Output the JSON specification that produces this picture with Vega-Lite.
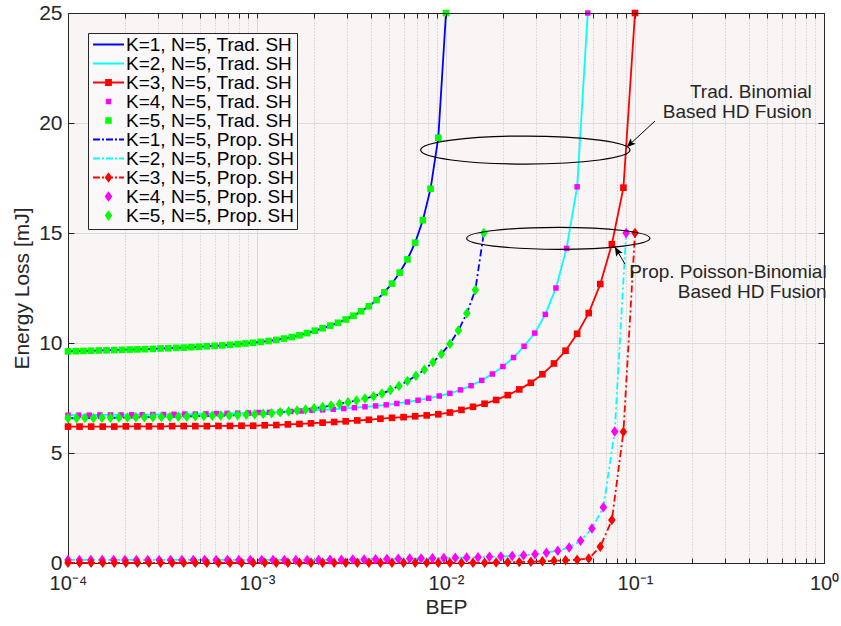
{
  "$schema": "https://vega.github.io/schema/vega-lite/v6.json",
  "width": 756,
  "height": 550,
  "autosize": {"type": "none"},
  "padding": {"left": 68, "top": 13, "right": 17, "bottom": 63},
  "background": "#FFFFFF",
  "datasets": {
    "info": [
      {"c": "A", "line": "K=1, N=5, Trad. SH", "marker": "K=5, N=5, Trad. SH", "method": "Trad"},
      {"c": "B", "line": "K=2, N=5, Trad. SH", "marker": "K=4, N=5, Trad. SH", "method": "Trad"},
      {"c": "C", "line": "K=3, N=5, Trad. SH", "marker": "K=3, N=5, Trad. SH", "method": "Trad"},
      {"c": "D", "line": "K=1, N=5, Prop. SH", "marker": "K=5, N=5, Prop. SH", "method": "Prop"},
      {"c": "E", "line": "K=2, N=5, Prop. SH", "marker": "K=4, N=5, Prop. SH", "method": "Prop"},
      {"c": "F", "line": "K=3, N=5, Prop. SH", "marker": "K=3, N=5, Prop. SH", "method": "Prop"}
    ],
    "keys": [
      {"series": "K=1, N=5, Trad. SH"}, {"series": "K=2, N=5, Trad. SH"}, {"series": "K=3, N=5, Trad. SH"},
      {"series": "K=4, N=5, Trad. SH"}, {"series": "K=5, N=5, Trad. SH"}, {"series": "K=1, N=5, Prop. SH"},
      {"series": "K=2, N=5, Prop. SH"}, {"series": "K=3, N=5, Prop. SH"}, {"series": "K=4, N=5, Prop. SH"},
      {"series": "K=5, N=5, Prop. SH"}
    ],
    "ovals": [
      {"n": "trad", "x": 0.02629, "y": 18.77},
      {"n": "prop", "x": 0.03927, "y": 14.76}
    ],
    "arrows": [
      {"n": "trad", "x": 0.1276, "y": 20.09, "x2": 0.0904, "y2": 18.9},
      {"n": "prop", "x": 0.0885, "y": 13.59, "x2": 0.0783, "y2": 14.36}
    ],
    "notes": [
      {"t": "Trad. Binomial", "x": 0.861, "y": 21.4},
      {"t": "Based HD Fusion", "x": 0.861, "y": 20.51},
      {"t": "Prop. Poisson-Binomial", "x": 1.033, "y": 13.21},
      {"t": "Based HD Fusion", "x": 1.033, "y": 12.33}
    ],
    "bep": [
      {"c":"A","x":0.0001,"y":9.62},{"c":"A","x":0.00010985,"y":9.63},{"c":"A","x":0.00012068,"y":9.64},{"c":"A","x":0.00013257,"y":9.65},{"c":"A","x":0.00014563,"y":9.66},
      {"c":"A","x":0.00015998,"y":9.67},{"c":"A","x":0.00017575,"y":9.68},{"c":"A","x":0.00019307,"y":9.69},{"c":"A","x":0.0002121,"y":9.70},{"c":"A","x":0.000233,"y":9.71},
      {"c":"A","x":0.00025595,"y":9.72},{"c":"A","x":0.00028118,"y":9.73},{"c":"A","x":0.00030888,"y":9.75},{"c":"A","x":0.00033932,"y":9.76},{"c":"A","x":0.00037276,"y":9.78},
      {"c":"A","x":0.00040949,"y":9.79},{"c":"A","x":0.00044984,"y":9.81},{"c":"A","x":0.00049417,"y":9.83},{"c":"A","x":0.00054287,"y":9.85},{"c":"A","x":0.00059636,"y":9.87},
      {"c":"A","x":0.00065513,"y":9.89},{"c":"A","x":0.00071969,"y":9.92},{"c":"A","x":0.0007906,"y":9.95},{"c":"A","x":0.00086851,"y":9.98},{"c":"A","x":0.0009541,"y":10.01},
      {"c":"A","x":0.0010481,"y":10.05},{"c":"A","x":0.0011514,"y":10.09},{"c":"A","x":0.0012649,"y":10.14},{"c":"A","x":0.0013895,"y":10.2},{"c":"A","x":0.0015264,"y":10.27},
      {"c":"A","x":0.0016768,"y":10.35},{"c":"A","x":0.001842,"y":10.45},{"c":"A","x":0.0020236,"y":10.56},{"c":"A","x":0.002223,"y":10.67},{"c":"A","x":0.002442,"y":10.79},
      {"c":"A","x":0.0026827,"y":10.92},{"c":"A","x":0.0029471,"y":11.07},{"c":"A","x":0.0032375,"y":11.24},{"c":"A","x":0.0035565,"y":11.44},{"c":"A","x":0.003907,"y":11.67},
      {"c":"A","x":0.004292,"y":11.95},{"c":"A","x":0.0047149,"y":12.3},{"c":"A","x":0.0051796,"y":12.7},{"c":"A","x":0.00569,"y":13.2},{"c":"A","x":0.0062507,"y":13.8},
      {"c":"A","x":0.0068667,"y":14.56},{"c":"A","x":0.0075433,"y":15.58},{"c":"A","x":0.0082866,"y":17.01},{"c":"A","x":0.0091032,"y":19.33},{"c":"A","x":0.01,"y":25},

      {"c":"B","x":0.0001,"y":6.72},{"c":"B","x":0.0001138,"y":6.72},{"c":"B","x":0.00012949,"y":6.72},{"c":"B","x":0.00014736,"y":6.73},{"c":"B","x":0.00016768,"y":6.73},
      {"c":"B","x":0.00019082,"y":6.73},{"c":"B","x":0.00021714,"y":6.74},{"c":"B","x":0.00024709,"y":6.74},{"c":"B","x":0.00028118,"y":6.75},{"c":"B","x":0.00031997,"y":6.75},
      {"c":"B","x":0.0003641,"y":6.76},{"c":"B","x":0.00041433,"y":6.77},{"c":"B","x":0.00047149,"y":6.77},{"c":"B","x":0.00053653,"y":6.78},{"c":"B","x":0.00061054,"y":6.79},
      {"c":"B","x":0.00069476,"y":6.8},{"c":"B","x":0.0007906,"y":6.81},{"c":"B","x":0.00089967,"y":6.82},{"c":"B","x":0.0010238,"y":6.84},{"c":"B","x":0.001165,"y":6.85},
      {"c":"B","x":0.0013257,"y":6.87},{"c":"B","x":0.0015086,"y":6.89},{"c":"B","x":0.0017167,"y":6.91},{"c":"B","x":0.0019535,"y":6.94},{"c":"B","x":0.002223,"y":6.96},
      {"c":"B","x":0.0025297,"y":6.99},{"c":"B","x":0.0028786,"y":7.02},{"c":"B","x":0.0032757,"y":7.06},{"c":"B","x":0.0037276,"y":7.1},{"c":"B","x":0.0042418,"y":7.14},
      {"c":"B","x":0.0048269,"y":7.19},{"c":"B","x":0.0054928,"y":7.25},{"c":"B","x":0.0062506,"y":7.32},{"c":"B","x":0.0071128,"y":7.4},{"c":"B","x":0.0080941,"y":7.49},
      {"c":"B","x":0.0092106,"y":7.59},{"c":"B","x":0.010481,"y":7.71},{"c":"B","x":0.011927,"y":7.87},{"c":"B","x":0.013572,"y":8.06},{"c":"B","x":0.015445,"y":8.3},
      {"c":"B","x":0.017575,"y":8.59},{"c":"B","x":0.02,"y":8.93},{"c":"B","x":0.022758,"y":9.34},{"c":"B","x":0.025898,"y":9.85},{"c":"B","x":0.029471,"y":10.45},
      {"c":"B","x":0.033536,"y":11.3},{"c":"B","x":0.038162,"y":12.5},{"c":"B","x":0.043427,"y":14.3},{"c":"B","x":0.049417,"y":17.1},{"c":"B","x":0.056234,"y":25},

      {"c":"C","x":0.0001,"y":6.2},{"c":"C","x":0.00011514,"y":6.2},{"c":"C","x":0.00013257,"y":6.2},{"c":"C","x":0.00015264,"y":6.2},{"c":"C","x":0.00017575,"y":6.2},
      {"c":"C","x":0.00020236,"y":6.21},{"c":"C","x":0.000233,"y":6.21},{"c":"C","x":0.00026827,"y":6.21},{"c":"C","x":0.00030888,"y":6.21},{"c":"C","x":0.00035565,"y":6.22},
      {"c":"C","x":0.00040949,"y":6.22},{"c":"C","x":0.00047149,"y":6.22},{"c":"C","x":0.00054287,"y":6.22},{"c":"C","x":0.00062506,"y":6.23},{"c":"C","x":0.00071968,"y":6.23},
      {"c":"C","x":0.00082864,"y":6.24},{"c":"C","x":0.00095409,"y":6.24},{"c":"C","x":0.0010985,"y":6.26},{"c":"C","x":0.0012649,"y":6.27},{"c":"C","x":0.0014564,"y":6.3},
      {"c":"C","x":0.0016768,"y":6.32},{"c":"C","x":0.0019307,"y":6.35},{"c":"C","x":0.002223,"y":6.38},{"c":"C","x":0.0025596,"y":6.41},{"c":"C","x":0.0029471,"y":6.44},
      {"c":"C","x":0.0033932,"y":6.48},{"c":"C","x":0.0039069,"y":6.51},{"c":"C","x":0.0044984,"y":6.56},{"c":"C","x":0.0051795,"y":6.6},{"c":"C","x":0.0059636,"y":6.63},
      {"c":"C","x":0.0068665,"y":6.67},{"c":"C","x":0.007906,"y":6.71},{"c":"C","x":0.009103,"y":6.76},{"c":"C","x":0.010481,"y":6.84},{"c":"C","x":0.012068,"y":6.96},
      {"c":"C","x":0.013895,"y":7.1},{"c":"C","x":0.015999,"y":7.24},{"c":"C","x":0.018421,"y":7.41},{"c":"C","x":0.02121,"y":7.63},{"c":"C","x":0.024421,"y":7.89},
      {"c":"C","x":0.028118,"y":8.19},{"c":"C","x":0.032375,"y":8.58},{"c":"C","x":0.037276,"y":9.07},{"c":"C","x":0.04292,"y":9.65},{"c":"C","x":0.049417,"y":10.42},
      {"c":"C","x":0.056899,"y":11.36},{"c":"C","x":0.065513,"y":12.68},{"c":"C","x":0.075431,"y":14.49},{"c":"C","x":0.086851,"y":17.06},{"c":"C","x":0.1,"y":25},

      {"c":"D","x":0.0001,"y":6.58},{"c":"D","x":0.00011089,"y":6.58},{"c":"D","x":0.00012297,"y":6.59},{"c":"D","x":0.00013636,"y":6.59},{"c":"D","x":0.00015121,"y":6.6},
      {"c":"D","x":0.00016768,"y":6.6},{"c":"D","x":0.00018595,"y":6.61},{"c":"D","x":0.0002062,"y":6.61},{"c":"D","x":0.00022866,"y":6.62},{"c":"D","x":0.00025356,"y":6.62},
      {"c":"D","x":0.00028118,"y":6.63},{"c":"D","x":0.0003118,"y":6.64},{"c":"D","x":0.00034576,"y":6.64},{"c":"D","x":0.00038342,"y":6.65},{"c":"D","x":0.00042518,"y":6.66},
      {"c":"D","x":0.00047149,"y":6.67},{"c":"D","x":0.00052284,"y":6.68},{"c":"D","x":0.00057979,"y":6.69},{"c":"D","x":0.00064293,"y":6.7},{"c":"D","x":0.00071295,"y":6.71},
      {"c":"D","x":0.0007906,"y":6.72},{"c":"D","x":0.00087671,"y":6.74},{"c":"D","x":0.0009722,"y":6.76},{"c":"D","x":0.001078,"y":6.78},{"c":"D","x":0.0011955,"y":6.81},
      {"c":"D","x":0.0013257,"y":6.85},{"c":"D","x":0.0014701,"y":6.89},{"c":"D","x":0.0016302,"y":6.93},{"c":"D","x":0.0018078,"y":6.98},{"c":"D","x":0.0020047,"y":7.03},
      {"c":"D","x":0.002223,"y":7.09},{"c":"D","x":0.0024651,"y":7.16},{"c":"D","x":0.0027336,"y":7.23},{"c":"D","x":0.0030313,"y":7.31},{"c":"D","x":0.0033615,"y":7.39},
      {"c":"D","x":0.0037276,"y":7.48},{"c":"D","x":0.0041336,"y":7.58},{"c":"D","x":0.0045838,"y":7.7},{"c":"D","x":0.005083,"y":7.86},{"c":"D","x":0.0056366,"y":8.05},
      {"c":"D","x":0.0062506,"y":8.27},{"c":"D","x":0.0069313,"y":8.51},{"c":"D","x":0.0076863,"y":8.79},{"c":"D","x":0.0085234,"y":9.12},{"c":"D","x":0.0094517,"y":9.5},
      {"c":"D","x":0.010481,"y":9.96},{"c":"D","x":0.011623,"y":10.57},{"c":"D","x":0.012889,"y":11.35},{"c":"D","x":0.014292,"y":12.41},{"c":"D","x":0.015849,"y":15},

      {"c":"E","x":0.0001,"y":0.14},{"c":"E","x":0.00011489,"y":0.14},{"c":"E","x":0.00013199,"y":0.14},{"c":"E","x":0.00015163,"y":0.14},{"c":"E","x":0.00017421,"y":0.14},
      {"c":"E","x":0.00020014,"y":0.14},{"c":"E","x":0.00022993,"y":0.14},{"c":"E","x":0.00026416,"y":0.14},{"c":"E","x":0.00030348,"y":0.14},{"c":"E","x":0.00034865,"y":0.14},
      {"c":"E","x":0.00040055,"y":0.14},{"c":"E","x":0.00046017,"y":0.14},{"c":"E","x":0.00052867,"y":0.14},{"c":"E","x":0.00060736,"y":0.14},{"c":"E","x":0.00069777,"y":0.14},
      {"c":"E","x":0.00080164,"y":0.14},{"c":"E","x":0.00092097,"y":0.14},{"c":"E","x":0.001058,"y":0.14},{"c":"E","x":0.0012156,"y":0.14},{"c":"E","x":0.0013965,"y":0.14},
      {"c":"E","x":0.0016044,"y":0.14},{"c":"E","x":0.0018432,"y":0.14},{"c":"E","x":0.0021176,"y":0.14},{"c":"E","x":0.0024328,"y":0.15},{"c":"E","x":0.0027949,"y":0.15},
      {"c":"E","x":0.003211,"y":0.16},{"c":"E","x":0.0036889,"y":0.16},{"c":"E","x":0.004238,"y":0.17},{"c":"E","x":0.0048689,"y":0.18},{"c":"E","x":0.0055936,"y":0.19},
      {"c":"E","x":0.0064262,"y":0.2},{"c":"E","x":0.0073829,"y":0.21},{"c":"E","x":0.0084818,"y":0.22},{"c":"E","x":0.0097444,"y":0.23},{"c":"E","x":0.011195,"y":0.24},
      {"c":"E","x":0.012861,"y":0.25},{"c":"E","x":0.014776,"y":0.26},{"c":"E","x":0.016975,"y":0.28},{"c":"E","x":0.019502,"y":0.3},{"c":"E","x":0.022405,"y":0.32},
      {"c":"E","x":0.02574,"y":0.35},{"c":"E","x":0.029572,"y":0.4},{"c":"E","x":0.033974,"y":0.47},{"c":"E","x":0.039031,"y":0.56},{"c":"E","x":0.044841,"y":0.7},
      {"c":"E","x":0.051515,"y":1.01},{"c":"E","x":0.059184,"y":1.57},{"c":"E","x":0.067994,"y":2.53},{"c":"E","x":0.078115,"y":5.98},{"c":"E","x":0.089743,"y":15},

      {"c":"F","x":0.0001,"y":0.01},{"c":"F","x":0.00011514,"y":0.01},{"c":"F","x":0.00013257,"y":0.01},{"c":"F","x":0.00015264,"y":0.01},{"c":"F","x":0.00017575,"y":0.01},
      {"c":"F","x":0.00020236,"y":0.01},{"c":"F","x":0.000233,"y":0.01},{"c":"F","x":0.00026827,"y":0.01},{"c":"F","x":0.00030888,"y":0.01},{"c":"F","x":0.00035565,"y":0.01},
      {"c":"F","x":0.00040949,"y":0.01},{"c":"F","x":0.00047149,"y":0.01},{"c":"F","x":0.00054287,"y":0.01},{"c":"F","x":0.00062506,"y":0.01},{"c":"F","x":0.00071968,"y":0.01},
      {"c":"F","x":0.00082864,"y":0.01},{"c":"F","x":0.00095409,"y":0.01},{"c":"F","x":0.0010985,"y":0.01},{"c":"F","x":0.0012649,"y":0.01},{"c":"F","x":0.0014564,"y":0.01},
      {"c":"F","x":0.0016768,"y":0.01},{"c":"F","x":0.0019307,"y":0.01},{"c":"F","x":0.002223,"y":0.01},{"c":"F","x":0.0025596,"y":0.01},{"c":"F","x":0.0029471,"y":0.01},
      {"c":"F","x":0.0033932,"y":0.01},{"c":"F","x":0.0039069,"y":0.01},{"c":"F","x":0.0044984,"y":0.01},{"c":"F","x":0.0051795,"y":0.01},{"c":"F","x":0.0059636,"y":0.01},
      {"c":"F","x":0.0068665,"y":0.01},{"c":"F","x":0.007906,"y":0.01},{"c":"F","x":0.009103,"y":0.01},{"c":"F","x":0.010481,"y":0.01},{"c":"F","x":0.012068,"y":0.01},
      {"c":"F","x":0.013895,"y":0.01},{"c":"F","x":0.015999,"y":0.01},{"c":"F","x":0.018421,"y":0.02},{"c":"F","x":0.02121,"y":0.03},{"c":"F","x":0.024421,"y":0.04},
      {"c":"F","x":0.028118,"y":0.06},{"c":"F","x":0.032375,"y":0.08},{"c":"F","x":0.037276,"y":0.1},{"c":"F","x":0.04292,"y":0.12},{"c":"F","x":0.049417,"y":0.15},
      {"c":"F","x":0.056899,"y":0.2},{"c":"F","x":0.065513,"y":0.74},{"c":"F","x":0.075431,"y":1.95},{"c":"F","x":0.086851,"y":5.97},{"c":"F","x":0.1,"y":15}
    ]
  },
  "layer": [
    {
      "data": {"name": "keys"},
      "mark": {"type": "point", "filled": true, "opacity": 0},
      "encoding": {
        "color": {
          "field": "series", "type": "nominal",
          "scale": {
            "domain": ["K=1, N=5, Trad. SH", "K=2, N=5, Trad. SH", "K=3, N=5, Trad. SH", "K=4, N=5, Trad. SH", "K=5, N=5, Trad. SH", "K=1, N=5, Prop. SH", "K=2, N=5, Prop. SH", "K=3, N=5, Prop. SH", "K=4, N=5, Prop. SH", "K=5, N=5, Prop. SH"],
            "range": ["#0000FF", "#00FFFF", "#FF0000", "#FF00FF", "#00FF00", "#0000FF", "#00FFFF", "#FF0000", "#FF00FF", "#00FF00"]
          },
          "legend": {"title": null, "symbolOpacity": 1}
        },
        "shape": {
          "field": "series", "type": "nominal",
          "scale": {
            "domain": ["K=1, N=5, Trad. SH", "K=2, N=5, Trad. SH", "K=3, N=5, Trad. SH", "K=4, N=5, Trad. SH", "K=5, N=5, Trad. SH", "K=1, N=5, Prop. SH", "K=2, N=5, Prop. SH", "K=3, N=5, Prop. SH", "K=4, N=5, Prop. SH", "K=5, N=5, Prop. SH"],
            "range": [
              "M-1,-0.07H1V0.07H-1Z",
              "M-1,-0.07H1V0.07H-1Z",
              "M-1,-0.07H1V0.07H-1ZM-0.22,-0.22H0.22V0.22H-0.22Z",
              "M-0.17,-0.17H0.17V0.17H-0.17Z",
              "M-0.21,-0.21H0.21V0.21H-0.21Z",
              "M-1,-0.07H-0.55V0.07H-1ZM-0.42,-0.07H-0.29V0.07H-0.42ZM-0.16,-0.07H0.29V0.07H-0.16ZM0.42,-0.07H0.55V0.07H0.42ZM0.68,-0.07H1V0.07H0.68Z",
              "M-1,-0.07H-0.55V0.07H-1ZM-0.42,-0.07H-0.29V0.07H-0.42ZM-0.16,-0.07H0.29V0.07H-0.16ZM0.42,-0.07H0.55V0.07H0.42ZM0.68,-0.07H1V0.07H0.68Z",
              "M-1,-0.07H-0.55V0.07H-1ZM-0.42,-0.07H-0.29V0.07H-0.42ZM-0.16,-0.07H0.29V0.07H-0.16ZM0.42,-0.07H0.55V0.07H0.42ZM0.68,-0.07H1V0.07H0.68ZM0,-0.34L0.245,0L0,0.34L-0.245,0Z",
              "M0,-0.34L0.245,0L0,0.34L-0.245,0Z",
              "M0,-0.34L0.245,0L0,0.34L-0.245,0Z"
            ]
          },
          "legend": {"title": null, "symbolOpacity": 1}
        }
      }
    },
    {
      "data": {"name": "bep"},
      "transform": [
        {"lookup": "c", "from": {"data": {"name": "info"}, "key": "c", "fields": ["line", "marker", "method"]}}
      ],
      "mark": {"type": "line", "strokeWidth": 1.8},
      "encoding": {
        "x": {
          "field": "x", "type": "quantitative",
          "scale": {"type": "log", "domain": [0.0001, 1], "nice": false},
          "axis": {
            "orient": "bottom",
            "values": [0.0001,0.0002,0.0003,0.0004,0.0005,0.0006,0.0007,0.0008,0.0009,0.001,0.002,0.003,0.004,0.005,0.006,0.007,0.008,0.009,0.01,0.02,0.03,0.04,0.05,0.06,0.07,0.08,0.09,0.1,0.2,0.3,0.4,0.5,0.6,0.7,0.8,0.9,1],
            "labelExpr": "abs(log(datum.value)/LN10+4)<0.001 ? '10⁻⁴' : abs(log(datum.value)/LN10+3)<0.001 ? '10⁻³' : abs(log(datum.value)/LN10+2)<0.001 ? '10⁻²' : abs(log(datum.value)/LN10+1)<0.001 ? '10⁻¹' : abs(log(datum.value)/LN10)<0.001 ? '10⁰' : ''",
            "labelFontSize": 20,
            "labelFlush": false,
            "labelOverlap": false,
            "labelPadding": 15,
            "tickSize": -5,
            "grid": true,
            "gridColor": {"condition": {"test": "abs(log(datum.value)/LN10 - round(log(datum.value)/LN10)) < 0.001", "value": "#DCD9D9"}, "value": "#C2BFBF"},
            "gridDash": {"condition": {"test": "abs(log(datum.value)/LN10 - round(log(datum.value)/LN10)) < 0.001", "value": []}, "value": [1, 2]},
            "title": "BEP",
            "titleFontSize": 21,
            "titlePadding": 3
          }
        },
        "y": {
          "field": "y", "type": "quantitative",
          "scale": {"domain": [0, 25], "nice": false, "zero": false},
          "axis": {
            "orient": "left",
            "values": [0, 5, 10, 15, 20, 25],
            "labelFontSize": 21,
            "labelFlush": false,
            "labelPadding": 12,
            "tickSize": -6,
            "grid": true,
            "gridColor": "#DCD9D9",
            "title": "Energy Loss [mJ]",
            "titleFontSize": 21,
            "titlePadding": 6
          }
        },
        "stroke": {
          "field": "line", "type": "nominal", "legend": null,
          "scale": {
            "domain": ["K=1, N=5, Trad. SH", "K=2, N=5, Trad. SH", "K=3, N=5, Trad. SH", "K=1, N=5, Prop. SH", "K=2, N=5, Prop. SH", "K=3, N=5, Prop. SH"],
            "range": ["#0000FF", "#00FFFF", "#FF0000", "#0000FF", "#00FFFF", "#FF0000"]
          }
        },
        "strokeDash": {
          "field": "method", "type": "nominal", "legend": null,
          "scale": {"domain": ["Trad", "Prop"], "range": [[1, 0], [7, 3, 2, 3]]}
        }
      }
    },
    {
      "data": {"name": "bep"},
      "transform": [
        {"lookup": "c", "from": {"data": {"name": "info"}, "key": "c", "fields": ["line", "marker", "method"]}},
        {"filter": "datum.method === 'Trad'"}
      ],
      "mark": {"type": "point", "shape": "square", "filled": true, "opacity": 1, "strokeWidth": 0},
      "encoding": {
        "x": {"field": "x", "type": "quantitative", "axis": null},
        "y": {"field": "y", "type": "quantitative", "axis": null},
        "fill": {
          "field": "marker", "type": "nominal", "legend": null,
          "scale": {
            "domain": ["K=3, N=5, Trad. SH", "K=4, N=5, Trad. SH", "K=5, N=5, Trad. SH", "K=3, N=5, Prop. SH", "K=4, N=5, Prop. SH", "K=5, N=5, Prop. SH"],
            "range": ["#FF0000", "#FF00FF", "#00FF00", "#FF0000", "#FF00FF", "#00FF00"]
          }
        },
        "size": {"condition": {"test": "datum.c === 'B'", "value": 30}, "value": 44}
      }
    },
    {
      "data": {"name": "bep"},
      "transform": [
        {"lookup": "c", "from": {"data": {"name": "info"}, "key": "c", "fields": ["line", "marker", "method"]}},
        {"filter": "datum.method === 'Prop'"}
      ],
      "mark": {"type": "point", "shape": "M0,-1L0.72,0L0,1L-0.72,0Z", "size": 110, "filled": true, "opacity": 1, "strokeWidth": 0},
      "encoding": {
        "x": {"field": "x", "type": "quantitative", "axis": null},
        "y": {"field": "y", "type": "quantitative", "axis": null},
        "fill": {
          "field": "marker", "type": "nominal", "legend": null,
          "scale": {
            "domain": ["K=3, N=5, Trad. SH", "K=4, N=5, Trad. SH", "K=5, N=5, Trad. SH", "K=3, N=5, Prop. SH", "K=4, N=5, Prop. SH", "K=5, N=5, Prop. SH"],
            "range": ["#FF0000", "#FF00FF", "#00FF00", "#FF0000", "#FF00FF", "#00FF00"]
          }
        }
      }
    },
    {
      "data": {"name": "ovals"},
      "transform": [{"filter": "datum.n === 'trad'"}],
      "mark": {
        "type": "point", "filled": false, "opacity": 1, "stroke": "#000000", "strokeWidth": 1.2, "size": 43848,
        "shape": "M-1,0C-1,-0.074,-0.5523,-0.134,0,-0.134C0.5523,-0.134,1,-0.074,1,0C1,0.074,0.5523,0.134,0,0.134C-0.5523,0.134,-1,0.074,-1,0Z"
      },
      "encoding": {
        "x": {
          "field": "x", "type": "quantitative",
          "axis": {
            "orient": "top",
            "values": [0.0001,0.0002,0.0003,0.0004,0.0005,0.0006,0.0007,0.0008,0.0009,0.001,0.002,0.003,0.004,0.005,0.006,0.007,0.008,0.009,0.01,0.02,0.03,0.04,0.05,0.06,0.07,0.08,0.09,0.1,0.2,0.3,0.4,0.5,0.6,0.7,0.8,0.9,1],
            "labels": false, "grid": false, "tickSize": -5, "title": null, "zindex": 1
          }
        },
        "y": {
          "field": "y", "type": "quantitative",
          "axis": {
            "orient": "right",
            "values": [0, 5, 10, 15, 20, 25],
            "labels": false, "grid": false, "tickSize": -6, "title": null, "zindex": 1
          }
        }
      }
    },
    {
      "data": {"name": "ovals"},
      "transform": [{"filter": "datum.n === 'prop'"}],
      "mark": {
        "type": "point", "filled": false, "opacity": 1, "stroke": "#000000", "strokeWidth": 1.2, "size": 33599,
        "shape": "M-1,0C-1,-0.0663,-0.5523,-0.12,0,-0.12C0.5523,-0.12,1,-0.0663,1,0C1,0.0663,0.5523,0.12,0,0.12C-0.5523,0.12,-1,0.0663,-1,0Z"
      },
      "encoding": {
        "x": {"field": "x", "type": "quantitative", "axis": null},
        "y": {"field": "y", "type": "quantitative", "axis": null}
      }
    },
    {
      "data": {"name": "arrows"},
      "mark": {"type": "rule", "color": "#000000", "strokeWidth": 1},
      "encoding": {
        "x": {"field": "x", "type": "quantitative", "axis": null},
        "y": {"field": "y", "type": "quantitative", "axis": null},
        "x2": {"field": "x2"},
        "y2": {"field": "y2"}
      }
    },
    {
      "data": {"name": "arrows"},
      "mark": {"type": "point", "shape": "M0,0L-0.42,1L0,0.78L0.42,1Z", "size": 324, "filled": true, "opacity": 1, "color": "#000000", "strokeWidth": 0},
      "encoding": {
        "x": {"field": "x2", "type": "quantitative", "axis": null},
        "y": {"field": "y2", "type": "quantitative", "axis": null},
        "angle": {"condition": {"test": "datum.n === 'trad'", "value": 227}, "value": 330}
      }
    },
    {
      "data": {"name": "notes"},
      "mark": {"type": "text", "align": "right", "baseline": "middle", "fontSize": 19, "color": "#262626"},
      "encoding": {
        "x": {"field": "x", "type": "quantitative", "axis": null},
        "y": {"field": "y", "type": "quantitative", "axis": null},
        "text": {"field": "t"}
      }
    }
  ],
  "resolve": {"axis": {"x": "independent", "y": "independent"}},
  "config": {
    "font": "Liberation Sans",
    "view": {"fill": "#F8F5F4", "stroke": null},
    "axis": {
      "labelFont": "Liberation Sans",
      "titleFont": "Liberation Sans",
      "labelColor": "#262626",
      "titleColor": "#262626",
      "titleFontWeight": "normal",
      "domainColor": "#262626",
      "tickColor": "#262626",
      "domainWidth": 1,
      "tickWidth": 1
    },
    "legend": {
      "orient": "top-left",
      "offset": 20,
      "padding": 3,
      "strokeColor": "#262626",
      "strokeWidth": 1,
      "fillColor": "#FAF8F8",
      "symbolSize": 961,
      "symbolStrokeWidth": 0,
      "symbolOpacity": 1,
      "symbolOffset": 2,
      "labelOffset": 2,
      "labelFont": "Liberation Sans",
      "labelFontSize": 19,
      "labelColor": "#000000",
      "labelLimit": 400,
      "clipHeight": 17,
      "rowPadding": -1.5
    }
  }
}
